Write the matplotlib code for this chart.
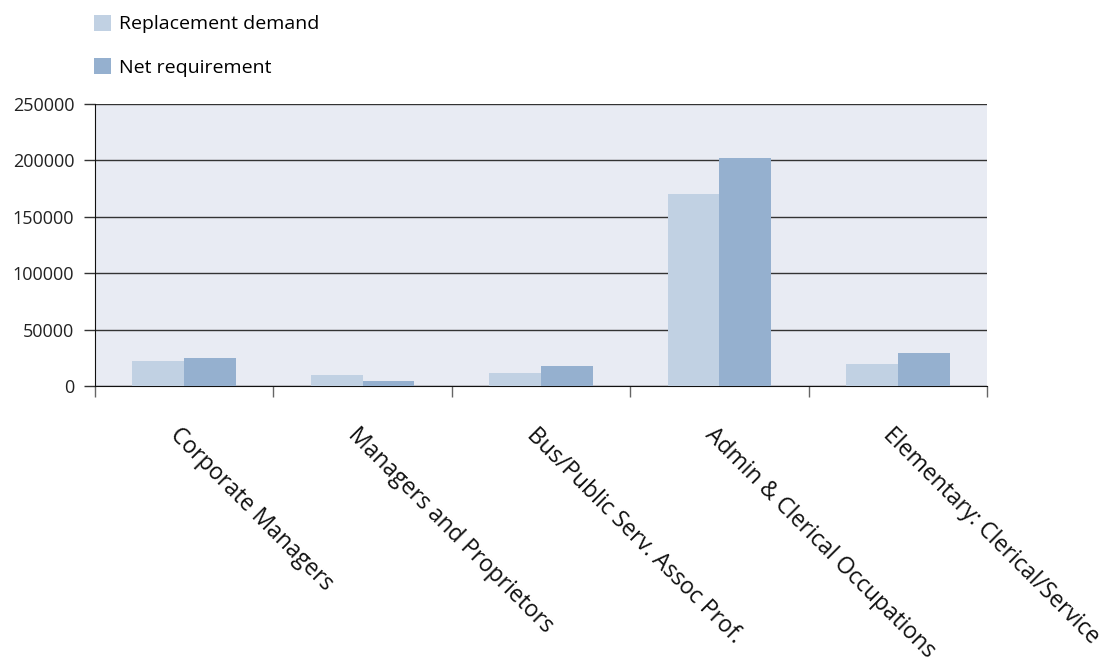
import numpy as np
import matplotlib
matplotlib.use("Agg")
import matplotlib.pyplot as plt
import matplotlib.transforms as mtransforms

plt.rcParams['font.family'] = ['Open Sans', 'DejaVu Sans']

categories = ["Corporate Managers", "Managers and Proprietors",
              "Bus/Public Serv. Assoc Prof.", "Admin & Clerical Occupations",
              "Elementary: Clerical/Service"]
replacement_demand = [22000, 9800, 11500, 170000, 19500]
net_requirement = [25000, 4700, 17800, 202000, 29500]
y_ticks = [0, 50000, 100000, 150000, 200000, 250000]

light = '#c1d1e3'
dark = '#95b0cf'

fig = plt.figure(figsize=(11.13, 6.66), dpi=100)
ax = fig.add_axes([95 / 1113, 1 - 386 / 666, 892 / 1113, 282 / 666])
ax.set_facecolor('#e8ebf3')

x = np.arange(len(categories))
w = 0.29
ax.bar(x - w / 2, replacement_demand, w, color=light, label='Replacement demand', zorder=3)
ax.bar(x + w / 2, net_requirement, w, color=dark, label='Net requirement', zorder=3)

ax.set_xlim(-0.5, len(categories) - 0.5)
ax.set_ylim(0, 250000)
ax.set_yticks(y_ticks)
ax.set_yticklabels([str(v) for v in y_ticks], fontsize=13, color='#222222')
ax.yaxis.grid(True, color='#333333', linewidth=1, zorder=1)
ax.set_axisbelow(True)

for s in ['top', 'right']:
    ax.spines[s].set_visible(False)
ax.spines['left'].set_color('#111111')
ax.spines['bottom'].set_color('#111111')
ax.tick_params(axis='y', length=8, width=1, color='#333333', pad=7)

# category labels at group centres, tick marks at group boundaries
ax.set_xticks(x)
ax.set_xticklabels(categories, rotation=-45, ha='left', va='center',
                   rotation_mode='anchor', fontsize=16.5, color='#111111')
ax.tick_params(axis='x', which='major', length=0, pad=0)
ax.set_xticks(np.arange(len(categories) + 1) - 0.5, minor=True)
ax.tick_params(axis='x', which='minor', length=8, width=1, color='#666666')

offset = mtransforms.ScaledTranslation(-11 / 100, -46 / 100, fig.dpi_scale_trans)
for lbl in ax.get_xticklabels():
    lbl.set_transform(lbl.get_transform() + offset)

fig.legend(loc='upper left', bbox_to_anchor=(84 / 1113, 1 - 5 / 666),
           frameon=False, fontsize=14, handlelength=0.9, handleheight=0.9,
           handletextpad=0.4, labelspacing=1.25, borderpad=0)

fig.savefig('out.png', dpi=100)
